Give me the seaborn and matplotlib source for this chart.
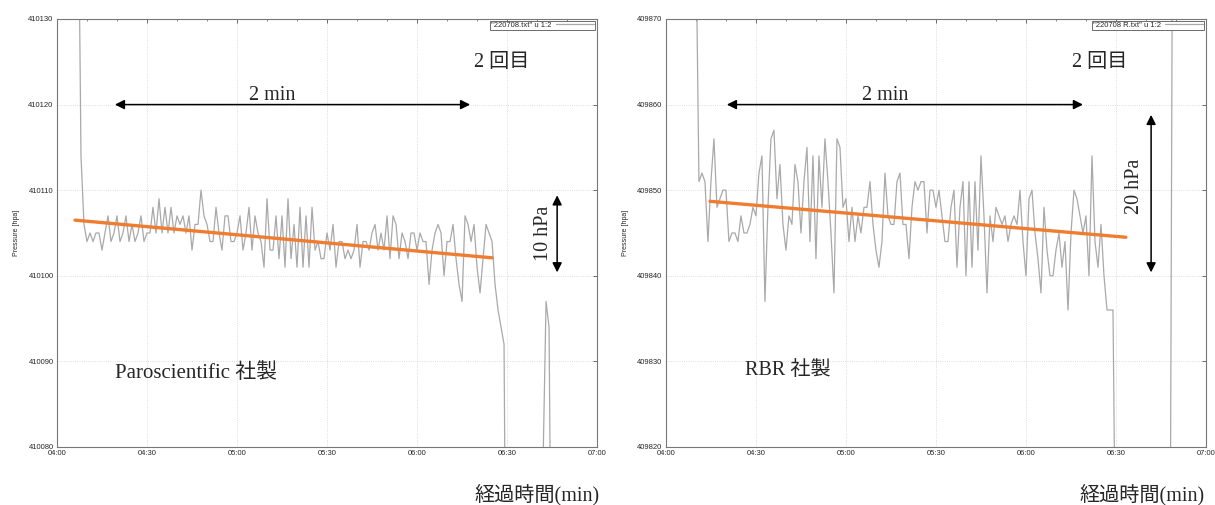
import numpy as np
import pandas as pd
import matplotlib
matplotlib.use("Agg")
import matplotlib.pyplot as plt
from matplotlib.ticker import MultipleLocator, FuncFormatter
import seaborn as sns

# --- data (1 s sampling) ---
paro_t0 = 247
paro_pressure = [
    410150, 410114, 410106,
    410104, 410105, 410104, 410105, 410105, 410103, 410105, 410107, 410104, 410105,
    410107, 410104, 410105, 410107, 410104, 410106, 410104, 410105, 410107, 410104,
    410105, 410105, 410108, 410105, 410109, 410105, 410108, 410105, 410108, 410105,
    410107, 410106, 410107, 410105, 410107, 410103, 410106, 410106, 410110, 410107,
    410106, 410104, 410104, 410108, 410105, 410103, 410107, 410107, 410104, 410104,
    410105, 410107, 410103, 410105, 410108, 410103, 410107, 410105, 410104, 410101,
    410109, 410103, 410103, 410107, 410102, 410107, 410101, 410109, 410102, 410106,
    410101, 410108, 410101, 410107, 410101, 410108, 410103, 410104, 410102, 410102,
    410105, 410103, 410106, 410101, 410104, 410104, 410102, 410103, 410102, 410103,
    410106, 410101, 410104, 410104, 410103, 410105, 410106, 410103, 410105, 410103,
    410107, 410102, 410107, 410106, 410102, 410105, 410104, 410102, 410105, 410105,
    410103, 410105, 410104, 410104, 410099, 410103, 410105, 410106, 410105, 410100,
    410104, 410104, 410106, 410102, 410099, 410097, 410107, 410106, 410104, 410106,
    410101, 410098, 410102, 410106, 410105, 410104, 410099, 410096,
    410094, 410092,
    410040, 410040, 410040, 410040, 410040, 410040, 410040, 410040, 410040, 410040,
    410040, 410050, 410078, 410097, 410094, 410050,
    410040, 410040, 410040, 410040, 410040, 410040, 410040, 410040, 410040, 410040,
    410040, 410040, 410040, 410040, 410040,
]

rbr_t0 = 250
rbr_pressure = [
    409880,
    409851, 409852, 409851, 409844, 409851, 409856, 409848, 409849, 409850, 409850,
    409844, 409845, 409845, 409844, 409847, 409845, 409845, 409846, 409848, 409847,
    409852, 409854, 409837, 409848, 409856, 409857, 409849, 409853, 409846, 409843,
    409847, 409846, 409853, 409851, 409845, 409851, 409855, 409844, 409854, 409842,
    409854, 409848, 409856, 409851, 409845, 409838, 409856, 409855, 409848, 409849,
    409844, 409848, 409844, 409847, 409845, 409848, 409848, 409851, 409846, 409843,
    409841, 409844, 409852, 409847, 409846, 409846, 409851, 409852, 409846, 409846,
    409842,
    409848, 409851, 409850, 409851, 409851, 409845, 409850, 409850, 409848, 409850,
    409847, 409844, 409844, 409848, 409850, 409841, 409848, 409851, 409840, 409851,
    409841, 409851, 409843, 409854, 409847, 409838, 409847, 409844, 409848, 409847,
    409846, 409847, 409844, 409846, 409847, 409846, 409850, 409844, 409840, 409849,
    409850, 409845, 409842, 409838, 409848, 409843, 409840, 409840, 409843, 409845,
    409841, 409844, 409836, 409845, 409850, 409849, 409847, 409845, 409847, 409840,
    409854, 409844, 409841, 409846, 409840, 409836, 409836,
    409836,
    409800, 409800, 409800, 409800, 409800, 409800, 409800, 409800, 409800, 409800,
    409800, 409800, 409800, 409800, 409800, 409800, 409800, 409800, 409800,
    409900, 409900, 409900, 409900, 409900, 409900, 409900, 409900, 409900, 409900,
    409900, 409900,
]

# orange trend lines (end points)
paro_trend_t = [246, 385]
paro_trend_p = [410106.5, 410102.1]
rbr_trend_t = [254.7, 393.3]
rbr_trend_p = [409848.7, 409844.5]

paro_ylim = (410080, 410130)
rbr_ylim = (409820, 409870)

sns.set_style("white")
plt.rcParams["font.family"] = ["Liberation Sans", "DejaVu Sans"]
JP = ["Liberation Serif", "Noto Sans CJK JP", "DejaVu Sans"]
NOTE_SIZE = 14.5

GRAY = "#a9a9a9"
ORANGE = "#ef7d30"


def mmss(x, pos):
    x = int(round(x))
    return f"{x // 60:02d}:{x % 60:02d}"


def draw_panel(ax, t0, pressure, trend_t, trend_p, ylim, key):
    df = pd.DataFrame({"t": t0 + np.arange(len(pressure)), "p": pressure})
    sns.lineplot(data=df, x="t", y="p", ax=ax, color=GRAY, lw=0.9,
                 estimator=None, label=key)
    sns.lineplot(x=trend_t, y=trend_p, ax=ax, color=ORANGE, lw=2.4,
                 estimator=None, legend=False)

    ax.set_xlim(240, 420)
    ax.set_ylim(*ylim)
    ax.xaxis.set_major_locator(MultipleLocator(30))
    ax.xaxis.set_minor_locator(MultipleLocator(10))
    ax.yaxis.set_major_locator(MultipleLocator(10))
    ax.xaxis.set_major_formatter(FuncFormatter(mmss))
    ax.yaxis.set_major_formatter(FuncFormatter(lambda v, p: f"{int(round(v))}"))
    ax.tick_params(which="both", direction="in", top=True, right=True,
                   labelsize=5.5, color="#555555", pad=2.5)
    ax.tick_params(which="major", length=3, width=0.6)
    ax.tick_params(which="minor", length=1.5, width=0.5)
    ax.grid(True, which="major", ls=":", color="#d2d2d2", lw=0.6)
    for s in ax.spines.values():
        s.set_color("#777777")
        s.set_linewidth(0.8)
    ax.set_xlabel("")
    ax.set_ylabel("Pressure [hpa]", fontsize=5, labelpad=6)

    h, l = ax.get_legend_handles_labels()
    ax.legend(h[:1], l[:1], loc="upper right", markerfirst=False, fontsize=5.5,
              frameon=True, fancybox=False, edgecolor="#555555", framealpha=1,
              borderpad=0.1, handlelength=5, borderaxespad=0.25,
              handletextpad=0.6)
    ax.get_legend().get_frame().set_linewidth(0.6)


fig = plt.figure(figsize=(12.15, 5.05), dpi=100)
ax1 = fig.add_axes([0.0469, 0.1149, 0.4445, 0.8475])
ax2 = fig.add_axes([0.5481, 0.1149, 0.4445, 0.8475])

draw_panel(ax1, paro_t0, paro_pressure, paro_trend_t, paro_trend_p,
           paro_ylim, '"220708.txt" u 1:2')
draw_panel(ax2, rbr_t0, rbr_pressure, rbr_trend_t, rbr_trend_p,
           rbr_ylim, '"220708 R.txt" u 1:2')

arrow = dict(arrowstyle="<|-|>", color="black", lw=1.1, mutation_scale=14,
             shrinkA=0, shrinkB=0)

# left panel notes
ax1.annotate("", xy=(377.7, 410120), xytext=(259.3, 410120), arrowprops=arrow)
ax1.text(311.7, 410119.95, "2 min", ha="center", va="bottom", fontsize=NOTE_SIZE, family=JP)
ax1.text(388.3, 410124.9, "2 回目", ha="center", va="center", fontsize=NOTE_SIZE, family=JP)
ax1.annotate("", xy=(406.7, 410109.4), xytext=(406.7, 410100.4), arrowprops=arrow)
ax1.text(402, 410105, "10 hPa", rotation=90, ha="center", va="center",
         fontsize=NOTE_SIZE, family=JP)
ax1.text(259.3, 410088.6, "Paroscientific 社製", ha="left", va="center",
         fontsize=NOTE_SIZE + 0.5, family=JP)

# right panel notes
ax2.annotate("", xy=(379, 409860), xytext=(260.3, 409860), arrowprops=arrow)
ax2.text(313, 409859.95, "2 min", ha="center", va="bottom", fontsize=NOTE_SIZE, family=JP)
ax2.text(384.7, 409864.9, "2 回目", ha="center", va="center", fontsize=NOTE_SIZE, family=JP)
ax2.annotate("", xy=(401.7, 409858.8), xytext=(401.7, 409840.4), arrowprops=arrow)
ax2.text(396.3, 409850.5, "20 hPa", rotation=90, ha="center", va="center",
         fontsize=NOTE_SIZE, family=JP)
ax2.text(266.3, 409828.9, "RBR 社製", ha="left", va="center", fontsize=NOTE_SIZE, family=JP)

fig.text(0.4938, 0.02, "経過時間(min)", ha="right", va="center", fontsize=NOTE_SIZE, family=JP)
fig.text(0.9918, 0.02, "経過時間(min)", ha="right", va="center", fontsize=NOTE_SIZE, family=JP)

fig.savefig("out.png", dpi=100)
